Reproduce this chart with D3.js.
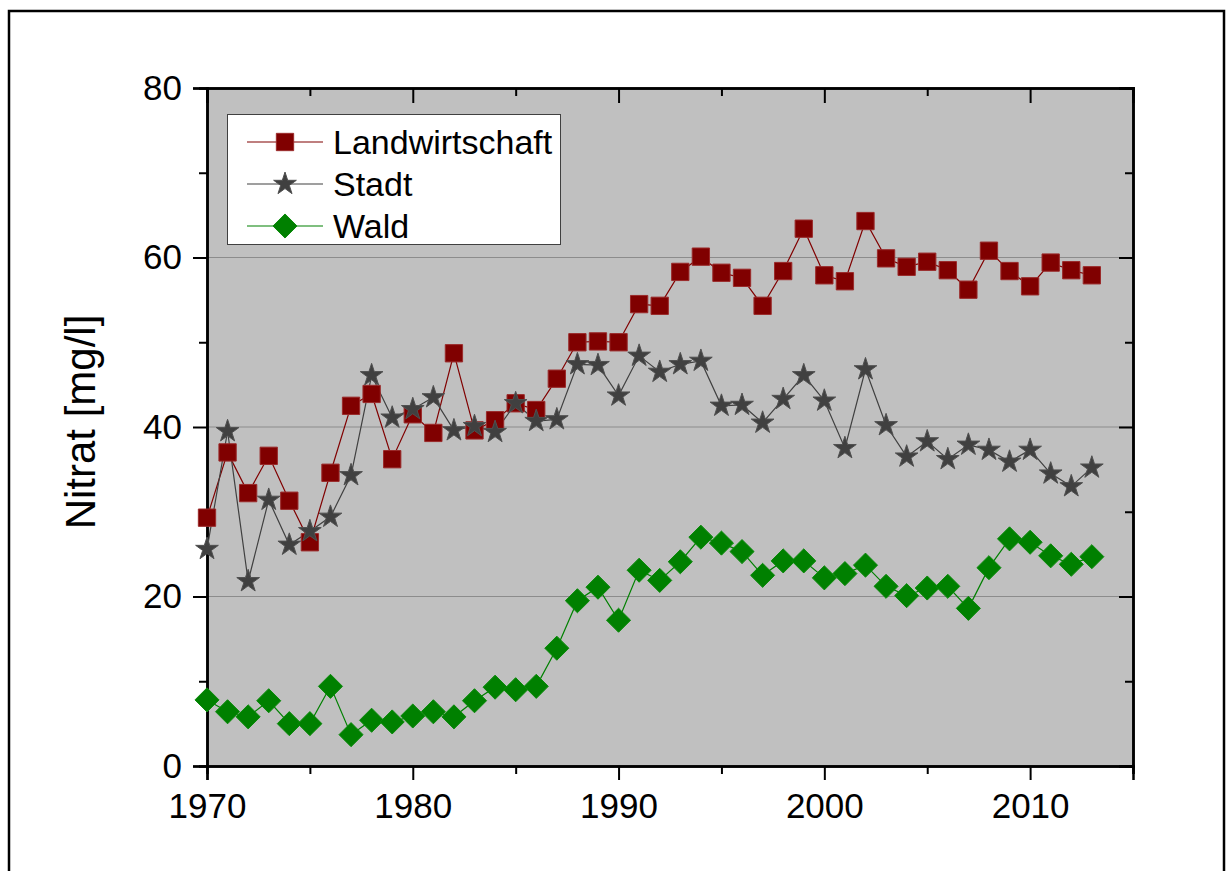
<!DOCTYPE html>
<html>
<head>
<meta charset="utf-8">
<script src="https://cdn.jsdelivr.net/npm/d3@7"></script>
<style>
  html, body { margin: 0; padding: 0; background: #fff; }
  svg { display: block; font-family: "Liberation Sans", Arial, sans-serif; }
</style>
</head>
<body>
<svg id="chart" width="1230" height="871"></svg>
<script>
// Nitrate concentration by land use, 1970–2013
const years = d3.range(1970, 2014);

const landwirtschaft = [29.3, 37.0, 32.2, 36.6, 31.3, 26.4, 34.6, 42.5, 43.9, 36.2,
  41.5, 39.3, 48.7, 39.6, 40.8, 42.8, 42.0, 45.7, 50.0, 50.1,
  50.0, 54.5, 54.3, 58.3, 60.1, 58.2, 57.6, 54.3, 58.4, 63.4,
  57.9, 57.2, 64.3, 59.9, 58.9, 59.5, 58.5, 56.2, 60.8, 58.4,
  56.6, 59.4, 58.5, 57.9];

const stadt = [25.6, 39.5, 21.8, 31.4, 26.1, 27.7, 29.4, 34.3, 46.1, 41.1,
  42.1, 43.5, 39.6, 40.1, 39.4, 42.8, 40.7, 40.9, 47.4, 47.3,
  43.7, 48.4, 46.5, 47.4, 47.8, 42.5, 42.6, 40.5, 43.3, 46.1,
  43.1, 37.5, 46.8, 40.2, 36.5, 38.3, 36.2, 37.9, 37.3, 35.9,
  37.3, 34.5, 33.0, 35.2];

const wald = [7.8, 6.4, 5.8, 7.7, 5.0, 5.0, 9.4, 3.7, 5.4, 5.2,
  5.9, 6.4, 5.8, 7.7, 9.3, 9.0, 9.4, 13.9, 19.5, 21.1,
  17.2, 23.1, 21.9, 24.1, 27.0, 26.3, 25.3, 22.5, 24.2, 24.2,
  22.2, 22.7, 23.7, 21.2, 20.1, 21.0, 21.2, 18.6, 23.4, 26.8,
  26.4, 24.8, 23.8, 24.7];

const xTicks = [1970, 1980, 1990, 2000, 2010];
const xMinorTicks = [1975, 1985, 1995, 2005, 2015];
const yTicks = [0, 20, 40, 60, 80];
const yMinorTicks = [10, 30, 50, 70];
const yLabel = "Nitrat [mg/l]";

// square diamond: a square turned by 45 degrees
const symbolSquareDiamond = {
  draw(context, size) {
    const r = Math.sqrt(size) / Math.SQRT2;
    context.moveTo(0, -r);
    context.lineTo(r, 0);
    context.lineTo(0, r);
    context.lineTo(-r, 0);
    context.closePath();
  }
};

const series = [
  { name: "Landwirtschaft", values: landwirtschaft, line: "#800000", fill: "#800000", stroke: "#9a2a2a", symbol: d3.symbolSquare, size: 300 },
  { name: "Stadt", values: stadt, line: "#404040", fill: "#404040", stroke: "#505050", symbol: d3.symbolStar, size: 160 },
  { name: "Wald", values: wald, line: "#008000", fill: "#008000", stroke: "#0a8a0a", symbol: symbolSquareDiamond, size: 290 }
];

const svg = d3.select("#chart");
const plot = { left: 207, right: 1133, top: 88, bottom: 766 };

const x = d3.scaleLinear().domain([1970, 2015]).range([plot.left, plot.right]);
const y = d3.scaleLinear().domain([0, 80]).range([plot.bottom, plot.top]);

// outer frame
svg.append("rect")
  .attr("x", 9).attr("y", 11)
  .attr("width", 1215).attr("height", 900)
  .attr("fill", "none").attr("stroke", "#000").attr("stroke-width", 2.5);

// plot background
svg.append("rect")
  .attr("x", plot.left).attr("y", plot.top)
  .attr("width", plot.right - plot.left).attr("height", plot.bottom - plot.top)
  .attr("fill", "#c0c0c0");

// horizontal gridlines
svg.append("g")
  .selectAll("line")
  .data(yTicks.filter(d => d > 0 && d < 80))
  .join("line")
  .attr("x1", plot.left).attr("x2", plot.right)
  .attr("y1", d => y(d)).attr("y2", d => y(d))
  .attr("stroke", "#8c8c8c").attr("stroke-width", 1.2);

// axes
const axisFont = "35px";
const bottomAxis = svg.append("g")
  .attr("transform", `translate(0,${plot.bottom})`)
  .call(d3.axisBottom(x).tickValues(xTicks).tickFormat(d3.format("d")).tickSize(14).tickPadding(13));
const bottomMinor = svg.append("g")
  .attr("transform", `translate(0,${plot.bottom})`)
  .call(d3.axisBottom(x).tickValues(xMinorTicks).tickFormat("").tickSize(8));
const topAxis = svg.append("g")
  .attr("transform", `translate(0,${plot.top})`)
  .call(d3.axisTop(x).tickValues(xTicks).tickFormat("").tickSize(-15));
const topMinor = svg.append("g")
  .attr("transform", `translate(0,${plot.top})`)
  .call(d3.axisTop(x).tickValues(xMinorTicks).tickFormat("").tickSize(-8));
const leftAxis = svg.append("g")
  .attr("transform", `translate(${plot.left},0)`)
  .call(d3.axisLeft(y).tickValues(yTicks).tickSize(14).tickPadding(11));
const leftMinor = svg.append("g")
  .attr("transform", `translate(${plot.left},0)`)
  .call(d3.axisLeft(y).tickValues(yMinorTicks).tickFormat("").tickSize(8));
const rightAxis = svg.append("g")
  .attr("transform", `translate(${plot.right},0)`)
  .call(d3.axisRight(y).tickValues(yTicks).tickFormat("").tickSize(-14));
const rightMinor = svg.append("g")
  .attr("transform", `translate(${plot.right},0)`)
  .call(d3.axisRight(y).tickValues(yMinorTicks).tickFormat("").tickSize(-8));

[bottomAxis, bottomMinor, topAxis, topMinor, leftAxis, leftMinor, rightAxis, rightMinor].forEach(g => {
  g.attr("font-size", null).attr("font-family", null);
  g.select(".domain").attr("stroke", "#000").attr("stroke-width", 2.5);
  g.selectAll(".tick line").attr("stroke", "#000").attr("stroke-width", 2);
  g.selectAll(".tick text")
    .attr("fill", "#000")
    .style("font-family", "'Liberation Sans', Arial, sans-serif")
    .style("font-size", axisFont);
});

// y axis title
svg.append("text")
  .attr("transform", `translate(95,${(plot.top + plot.bottom) / 2 - 5}) rotate(-90)`)
  .attr("text-anchor", "middle")
  .style("font-size", "42px")
  .attr("fill", "#000")
  .text(yLabel);

// series lines and markers
const lineGen = d3.line().x((d, i) => x(years[i])).y(d => y(d));
const marks = svg.append("g");

series.forEach(s => {
  marks.append("path")
    .datum(s.values)
    .attr("d", lineGen)
    .attr("fill", "none")
    .attr("stroke", s.line)
    .attr("stroke-width", 1.2);
});

series.forEach(s => {
  marks.append("g")
    .selectAll("path")
    .data(s.values)
    .join("path")
    .attr("transform", (d, i) => `translate(${x(years[i])},${y(d)})`)
    .attr("d", d3.symbol().type(s.symbol).size(s.size))
    .attr("fill", s.fill)
    .attr("stroke", s.stroke)
    .attr("stroke-width", 1);
});

// legend
const legend = svg.append("g");
legend.append("rect")
  .attr("x", 227.5).attr("y", 114.5)
  .attr("width", 333).attr("height", 130)
  .attr("fill", "#fff").attr("stroke", "#404040").attr("stroke-width", 1);

series.forEach((s, i) => {
  const ly = 142 + i * 42;
  legend.append("line")
    .attr("x1", 247).attr("x2", 323)
    .attr("y1", ly).attr("y2", ly)
    .attr("stroke", s.line).attr("stroke-width", 1.2);
  legend.append("path")
    .attr("transform", `translate(285,${ly})`)
    .attr("d", d3.symbol().type(s.symbol).size(s.size))
    .attr("fill", s.fill)
    .attr("stroke", s.stroke)
    .attr("stroke-width", 1);
  legend.append("text")
    .attr("x", 333).attr("y", ly)
    .attr("dy", "0.36em")
    .style("font-size", "34px")
    .attr("fill", "#000")
    .text(s.name);
});
</script>
</body>
</html>
